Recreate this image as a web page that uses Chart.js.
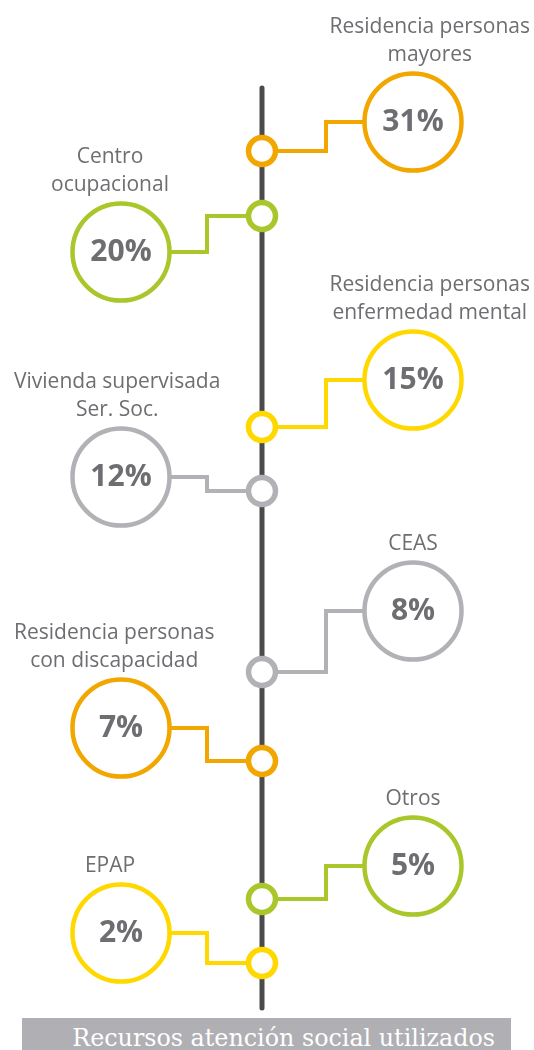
<!DOCTYPE html>
<html lang="es">
<head>
<meta charset="utf-8">
<title>Recursos atención social utilizados</title>
<script src="https://cdn.jsdelivr.net/npm/chart.js@4.4.1/dist/chart.umd.min.js"></script>
<style>
    html, body { margin: 0; padding: 0; background: #fff; overflow: hidden; }
    #wrap { position: relative; width: 534px; height: 1050px; }
    #banner {
        position: absolute; left: 22px; top: 1018px; width: 473px; height: 40px;
        padding-right: 16px; background: #b0afb4; color: #fff; text-align: right;
        font: 23.8px "DejaVu Serif", serif; line-height: 40px; white-space: nowrap;
    }
</style>
</head>
<body>
<div id="wrap">
    <canvas id="chart" width="534" height="1050"></canvas>
    <div id="banner">Recursos atención social utilizados</div>
</div>
<script>
"use strict";

// data
const categories = [
    ['Residencia personas', 'mayores'],
    ['Centro', 'ocupacional'],
    ['Residencia personas', 'enfermedad mental'],
    ['Vivienda supervisada', 'Ser. Soc.'],
    ['CEAS'],
    ['Residencia personas', 'con discapacidad'],
    ['Otros'],
    ['EPAP']
];
const values = [31, 20, 15, 12, 8, 7, 5, 2];

// layout (axis units, the scales map them to the canvas)
const spineX = 262;
const spineTop = 88;
const spineBottom = 1008;
const nodeY = [151, 216, 427, 491, 672, 761, 899, 963];
const bubbleY = [122, 252, 380, 477, 611, 728, 866, 933];
const sides = ['right', 'left', 'right', 'left', 'right', 'left', 'right', 'left'];
const sideX = { right: 413, left: 121 };
const elbowX = { right: 326, left: 207 };
const bubbleRadius = 48.5;

// styles
const ORANGE = '#f2a600', GREEN = '#a9c62b', YELLOW = '#ffd800', GREY = '#b2b1b6';
const colors = [ORANGE, GREEN, YELLOW, GREY, GREY, ORANGE, GREEN, YELLOW];
const textColor = '#6e6e72';

const bubbles = values.map((v, i) => ({ x: sideX[sides[i]], y: bubbleY[i] }));
const nodes = values.map((v, i) => ({ x: spineX, y: nodeY[i] }));

const connectors = values.map((v, i) => {
    const side = sides[i];
    return {
        data: [
            { x: spineX, y: nodeY[i] },
            { x: elbowX[side], y: nodeY[i] },
            { x: elbowX[side], y: bubbleY[i] },
            { x: sideX[side], y: bubbleY[i] }
        ],
        showLine: true,
        borderColor: colors[i],
        borderWidth: 4,
        pointRadius: 0,
        order: 4
    };
});

//labels and percentages drawn on top of the circles
const labelPlugin = {
    id: 'labels',
    afterDatasetsDraw(chart) {
        const ctx = chart.ctx;
        const xs = chart.scales.x, ys = chart.scales.y;
        ctx.save();
        ctx.textAlign = 'center';
        ctx.textBaseline = 'alphabetic';
        values.forEach((v, i) => {
            const cx = xs.getPixelForValue(bubbles[i].x);
            const cy = ys.getPixelForValue(bubbles[i].y);

            ctx.fillStyle = textColor;
            ctx.font = '700 30px "Open Sans"';
            ctx.fillText(v + '%', cx, cy + 9);

            ctx.font = '21px "Open Sans"';
            const lines = categories[i];
            const blockW = Math.max(...lines.map(l => ctx.measureText(l).width));
            let lx;
            if (sides[i] === 'right') {
                //long labels sit against the right edge
                lx = blockW > bubbleRadius * 2 ? chart.width - 4 - blockW / 2 : cx;
            } else {
                lx = Math.max(cx - 11, 14 + blockW / 2);
            }
            const lastY = cy - 61;
            lines.forEach((line, j) => {
                ctx.fillText(line, lx, lastY - (lines.length - 1 - j) * 28);
            });
        });
        ctx.restore();
    }
};

const ctx = document.getElementById('chart').getContext('2d');
const chart = new Chart(ctx, {
    type: 'scatter',
    data: {
        datasets: [
            {
                label: 'spine',
                data: [{ x: spineX, y: spineTop }, { x: spineX, y: spineBottom }],
                showLine: true,
                borderColor: '#4b4b4d',
                borderWidth: 5,
                borderCapStyle: 'round',
                pointRadius: 0,
                order: 5
            },
            ...connectors,
            {
                label: 'nodes',
                data: nodes,
                pointRadius: 13.5,
                pointBorderWidth: 5.5,
                pointBackgroundColor: '#fff',
                pointBorderColor: colors,
                order: 2
            },
            {
                label: 'bubbles',
                data: bubbles,
                pointRadius: bubbleRadius,
                pointBorderWidth: 4.5,
                pointBackgroundColor: '#fff',
                pointBorderColor: colors,
                order: 1
            }
        ]
    },
    options: {
        responsive: false,
        devicePixelRatio: 1,
        animation: false,
        layout: { padding: 0, autoPadding: false },
        plugins: {
            legend: { display: false },
            tooltip: { enabled: false }
        },
        scales: {
            x: { type: 'linear', min: 0, max: 534, display: false },
            y: { type: 'linear', min: 0, max: 1050, reverse: true, display: false }
        }
    },
    plugins: [labelPlugin]
});
</script>
</body>
</html>
